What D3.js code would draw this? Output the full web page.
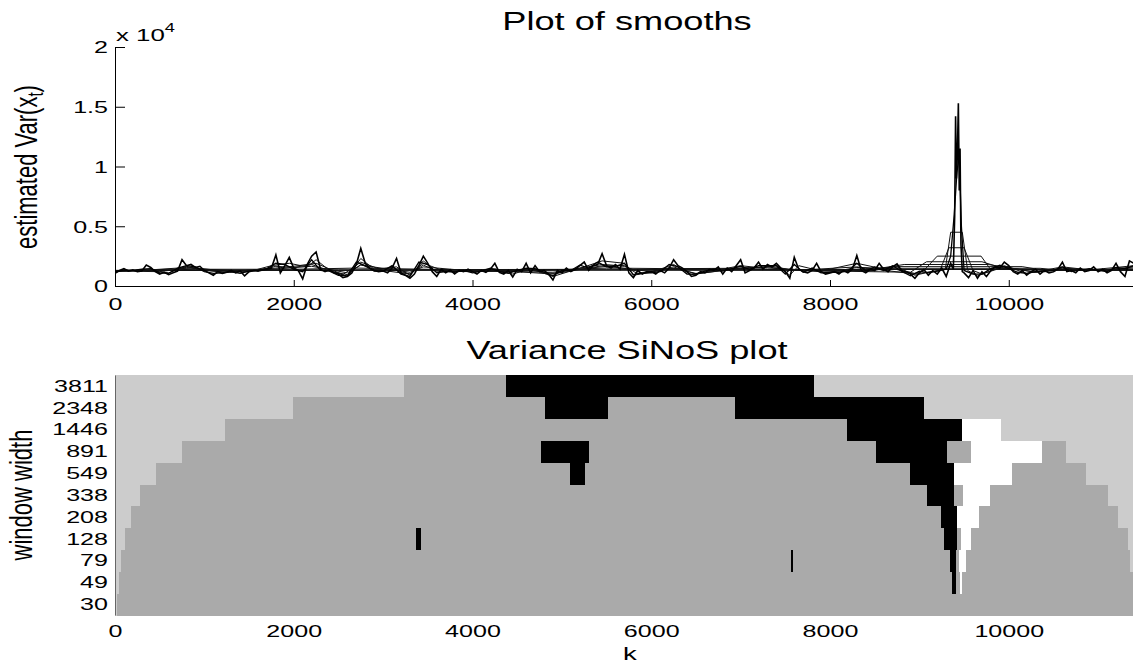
<!DOCTYPE html>
<html>
<head>
<meta charset="utf-8">
<script src="https://cdn.jsdelivr.net/npm/d3@7/dist/d3.min.js"></script>
<style>
  html, body { margin: 0; padding: 0; background: #fff; }
  svg { display: block; font-family: "Liberation Sans", Arial, Helvetica, sans-serif; }
</style>
</head>
<body>
<svg id="chart" width="1133" height="664"></svg>
<script>
// ---------------- DATA ----------------
const xTicks = [0, 2000, 4000, 6000, 8000, 10000];
const yTicks = [0, 5000, 10000, 15000, 20000];
const yTickLabels = ["0", "0.5", "1", "1.5", "2"];
const kMax = 11390;

// finest smooth (window 30): values every 50 k from 0 to 9350
const fineStep = 50;
const fineHeadV = [
  1050,1300,1450,1250,1350,1200,1250,1750,1550,1200,1000,1150,950,1100,1250,2200,1700,1800,1550,1650,
  1300,1100,900,1200,1050,1150,1300,1100,1250,850,1200,1300,1250,1350,1400,1500,2600,1100,1700,2400,
  1500,1300,600,1800,2500,2850,1400,1200,1350,1100,1000,700,800,1100,1800,3150,1900,1500,1300,1200,
  1250,1100,1500,2300,1100,900,650,1000,1700,2500,1900,1200,800,1400,1100,1350,1000,1300,1200,1400,
  1200,1000,1300,1150,1400,1900,1150,1000,1300,750,1400,1200,1900,1100,1700,1200,1300,1000,500,1300,
  1100,1500,1200,1400,1700,2000,1300,1700,1800,2700,1700,1500,1800,1400,2650,1100,700,1300,1000,1200,
  1200,1000,1300,1100,1500,2200,1700,1500,1200,800,900,1200,1100,1400,1300,1600,1000,1500,1200,1700,
  2200,1100,1300,1500,2000,1400,1800,1600,1900,1500,1200,650,2400,1400,1200,1100,1300,1900,1200,1000,
  1100,1200,1000,1300,1100,1400,2550,1300,1100,1400,1300,1900,1400,1200,1600,1850,1300,1200,1000,650,
  1100,1400,900,1300,1000,1500,800,1900
];
const fineSpikeK = [9380, 9395, 9405, 9415, 9425, 9436, 9446, 9455, 9465, 9480];
const fineSpikeV = [1400, 5900, 14200, 9000, 11000, 15300, 8000, 11500, 3500, 1200];
const fineTailStart = 9500;
const fineTailV = [
  1100,700,1300,650,1200,800,1300,1600,1500,2000,1700,1200,1000,1300,900,1200,1400,1000,1300,1100,
  1200,1400,2000,1200,1300,1100,1500,1200,1300,1600,1200,1400,1100,1300,1900,1200,800,2100,1900
];

// medium smooth (window 79): values every 100 k
const medStep = 100;
const medHeadV = [
  1150,1350,1300,1400,1450,1100,1050,1500,1700,1600,
  1200,1050,1100,1200,1050,1250,1300,1450,1900,1800,
  1400,1200,2200,1300,1250,900,850,2000,1700,1250,
  1250,1700,1000,800,2000,1800,1100,1250,1150,1300,
  1100,1250,1500,1200,1050,1300,1500,1450,1150,850,
  1300,1300,1750,1500,2000,1600,1650,1900,950,1100,
  1100,1200,1800,1600,1000,1000,1250,1400,1250,1450,
  1650,1400,1700,1700,1700,1000,1800,1150,1500,1100,
  1150,1150,1250,1900,1250,1600,1300,1700,1250,850,
  1250,1100,1250,1400
];
const medSpikeK = [9350, 9390, 9420, 9445, 9470];
const medSpikeV = [2500, 6000, 9500, 11000, 5000];
const medTailStart = 9500;
const medTailV = [1300,1000,1000,1450,1750,1450,1150,1050,1200,1200,1300,1600,1200,1350,1450,1300,1200,1550,1450,1700];

// coarser smooths
const w128K = [0,300,600,800,1000,1300,1500,1750,1950,2150,2250,2400,2600,2750,2900,3150,3300,3450,3600,3900,4250,4450,4650,4900,5250,5450,5700,5800,6000,6250,6450,6750,7000,7250,7400,7550,7650,7900,8300,8550,8750,8950,9100,9290,9350,9480,9540,9650,9950,10200,10600,10900,11200,11400];
const w128V = [1200,1350,1100,1650,1300,1150,1200,1700,1900,1600,2200,1300,800,2300,1400,1600,900,2100,1150,1250,1450,1000,1450,800,1600,2100,1900,900,1150,1800,950,1350,1700,1500,1750,900,1700,1250,1900,1500,1600,900,1150,1400,4500,4500,1300,850,1700,1050,1600,1350,1550,1700];
const w208K = [0,500,850,1300,1800,2000,2250,2550,2750,3000,3300,3450,3700,4300,4900,5250,5500,5700,5850,6250,6500,7000,7350,7600,8300,8950,9230,9330,9500,9600,9700,9950,10300,10600,11000,11400];
const w208V = [1250,1200,1550,1200,1500,1650,1900,950,2000,1300,1000,1900,1200,1300,1000,1450,1750,1700,1000,1600,1000,1500,1650,1300,1600,1000,1300,3200,3200,1300,1000,1600,1150,1500,1300,1600];
const w338K = [0,400,800,1200,1600,1800,2000,2200,2400,2600,2750,2900,3150,3300,3450,3600,4000,4300,4600,4900,5200,5450,5700,5900,6250,6500,7000,7300,7550,8000,8300,8700,8950,9050,9200,9690,9800,10000,10300,10600,11000,11400];
const w338V = [1250,1350,1550,1150,1300,1650,1550,1800,1250,950,1800,1350,1300,1000,1750,1250,1200,1250,1350,1050,1500,1800,1650,1050,1500,1050,1450,1600,1350,1150,1550,1450,1050,1300,2500,2500,1350,1500,1150,1450,1350,1500];
const w549K = [0,800,1500,2200,2600,2750,3300,3450,4000,4900,5500,6000,6250,7300,8000,8900,9080,9700,9950,10500,11400];
const w549V = [1250,1450,1250,1650,1100,1750,1150,1600,1250,1150,1650,1200,1450,1500,1250,1150,2030,2030,1450,1300,1400];
const w891K = [0,900,2000,2700,3500,4500,5500,7000,8400,8830,9770,10150,11400];
const w891V = [1250,1400,1400,1500,1400,1250,1500,1400,1300,1800,1800,1350,1350];
const w1446K = [0,2500,5500,8500,8700,10150,10400,11400];
const w1446V = [1300,1350,1400,1300,1620,1620,1300,1350];
const w2348K = [0,5000,8200,8400,10350,10600,11400];
const w2348V = [1300,1350,1330,1480,1480,1320,1300];
const w3811K = [0,7500,8000,10700,11400];
const w3811V = [1300,1330,1380,1380,1320];

// SiNoS map: window widths (bottom to top) and segments [kStart, kEnd, class]
// class: L = light grey, G = grey, B = black, W = white
const windowWidths = [30, 49, 79, 128, 208, 338, 549, 891, 1446, 2348, 3811];
const row30   = [[0,20,"L"],[20,11390,"G"]];
const row49   = [[0,45,"L"],[45,9370,"G"],[9370,9414,"B"],[9414,9459,"G"],[9459,9474,"W"],[9474,11390,"G"]];
const row79   = [[0,67,"L"],[67,7565,"G"],[7565,7587,"B"],[7587,9340,"G"],[9340,9407,"B"],[9407,9444,"G"],[9444,9526,"W"],[9526,11353,"G"],[11353,11390,"L"]];
const row128  = [[0,112,"L"],[112,3373,"G"],[3373,3421,"B"],[3421,9273,"G"],[9273,9421,"B"],[9421,9463,"G"],[9463,9582,"W"],[9582,11335,"G"],[11335,11390,"L"]];
const row208  = [[0,179,"L"],[179,9239,"G"],[9239,9421,"B"],[9421,9664,"W"],[9664,11223,"G"],[11223,11390,"L"]];
const row338  = [[0,280,"L"],[280,9086,"G"],[9086,9385,"B"],[9385,9489,"G"],[9489,9787,"W"],[9787,11111,"G"],[11111,11390,"L"]];
const row549  = [[0,459,"L"],[459,5089,"G"],[5089,5254,"B"],[5254,8893,"G"],[8893,9385,"B"],[9385,10041,"W"],[10041,10868,"G"],[10868,11390,"L"]];
const row891  = [[0,749,"L"],[749,4765,"G"],[4765,5302,"B"],[5302,8512,"G"],[8512,9310,"B"],[9310,9575,"G"],[9575,10376,"W"],[10376,10644,"G"],[10644,11390,"L"]];
const row1446 = [[0,1230,"L"],[1230,8188,"G"],[8188,9482,"B"],[9482,9918,"W"],[9918,11390,"L"]];
const row2348 = [[0,1986,"L"],[1986,4810,"G"],[4810,5511,"B"],[5511,6935,"G"],[6935,9049,"B"],[9049,11390,"L"]];
const row3811 = [[0,3233,"L"],[3233,4374,"G"],[4374,7819,"B"],[7819,11390,"L"]];
const sinosRows = [row30,row49,row79,row128,row208,row338,row549,row891,row1446,row2348,row3811];
const classColor = {L: "#cccccc", G: "#aaaaaa", B: "#000000", W: "#ffffff"};

// ---------------- BUILD SERIES ----------------
function pairs(ks, vs) { return ks.map((k, i) => [k, vs[i]]); }
const fineSeries = [
  ...fineHeadV.map((v, i) => [i * fineStep, v]),
  ...pairs(fineSpikeK, fineSpikeV),
  ...fineTailV.map((v, i) => [fineTailStart + i * fineStep, v])
];
const medSeries = [
  ...medHeadV.map((v, i) => [i * medStep, v]),
  ...pairs(medSpikeK, medSpikeV),
  ...medTailV.map((v, i) => [medTailStart + i * medStep, v])
];
const coarseSeries = [
  pairs(w3811K, w3811V), pairs(w2348K, w2348V), pairs(w1446K, w1446V),
  pairs(w891K, w891V), pairs(w549K, w549V), pairs(w338K, w338V),
  pairs(w208K, w208V), pairs(w128K, w128V)
];

// ---------------- DRAW ----------------
const svg = d3.select("#chart");
const SX = 1.52;      // horizontal stretch of text (figure aspect)
const left = 115, right = 1133;

const x = d3.scaleLinear().domain([0, kMax]).range([left, right]);

// ---- top panel ----
const topY0 = 286, topY1 = 47;
const y = d3.scaleLinear().domain([0, 20000]).range([topY0, topY1]);

svg.append("clipPath").attr("id", "clipTop")
  .append("rect").attr("x", left).attr("y", topY1 - 5).attr("width", right - left).attr("height", topY0 - topY1 + 5);

const line = d3.line().x(d => x(d[0])).y(d => y(d[1]));
const gLines = svg.append("g").attr("clip-path", "url(#clipTop)");
coarseSeries.forEach(s => {
  gLines.append("path").attr("d", line(s)).attr("fill", "none")
    .attr("stroke", "#111").attr("stroke-width", 1.0);
});
gLines.append("path").attr("d", line(medSeries)).attr("fill", "none")
  .attr("stroke", "#000").attr("stroke-width", 1.3);
gLines.append("path").attr("d", line(fineSeries)).attr("fill", "none")
  .attr("stroke", "#000").attr("stroke-width", 1.6);

function styleAxisText(g, fs) {
  g.selectAll("text").attr("font-size", fs).attr("fill", "#000")
    .attr("font-family", "Liberation Sans, Arial, sans-serif");
}

// x axis top
const xAxisTop = svg.append("g").attr("transform", `translate(0,${topY0})`)
  .call(d3.axisBottom(x).tickValues(xTicks).tickFormat(d3.format("d")).tickSizeInner(-6).tickSizeOuter(0).tickPadding(0));
xAxisTop.select(".domain").attr("stroke", "#000");
xAxisTop.selectAll(".tick line").attr("stroke", "#000");
styleAxisText(xAxisTop, 16.5);
xAxisTop.selectAll("text").attr("y", 0).attr("dy", null)
  .attr("transform", `translate(0,24) scale(${SX},1)`).attr("x", 0);

// y axis top
const yAxisTop = svg.append("g").attr("transform", `translate(${left},0)`)
  .call(d3.axisLeft(y).tickValues(yTicks).tickFormat((d, i) => yTickLabels[i]).tickSizeInner(-10).tickSizeOuter(0));
yAxisTop.select(".domain").attr("stroke", "#000");
yAxisTop.selectAll(".tick line").attr("stroke", "#000");
styleAxisText(yAxisTop, 16.5);
yAxisTop.selectAll("text").attr("x", 0).attr("dy", "0.36em")
  .attr("transform", `translate(-7,0) scale(${SX},1)`);

// exponent label
const expo = svg.append("text").attr("transform", `translate(116,41) scale(${SX},1)`)
  .attr("font-size", 17).attr("fill", "#000");
expo.append("tspan").text("x 10");
expo.append("tspan").attr("font-size", 12).attr("dy", -9).text("4");

// titles
svg.append("text").attr("transform", `translate(627,30) scale(1.42,1)`)
  .attr("text-anchor", "middle").attr("font-size", 25.5).attr("fill", "#000").text("Plot of smooths");
svg.append("text").attr("transform", `translate(627,359) scale(1.42,1)`)
  .attr("text-anchor", "middle").attr("font-size", 25.5).attr("fill", "#000").text("Variance SiNoS plot");

// y label top
const yl = svg.append("text").attr("transform", `translate(37,167) rotate(-90) scale(1,1.45)`)
  .attr("text-anchor", "middle").attr("font-size", 22).attr("fill", "#000");
yl.append("tspan").text("estimated Var(x");
yl.append("tspan").attr("font-size", 15).attr("dy", 4).text("t");
yl.append("tspan").attr("dy", -4).text(")");

// ---- bottom panel ----
const botTop = 375, botBottom = 615;
const band = d3.scaleBand().domain(windowWidths.slice().reverse()).range([botTop, botBottom]).padding(0);

const gMap = svg.append("g").attr("shape-rendering", "crispEdges");
sinosRows.forEach((row, ri) => {
  const w = windowWidths[ri];
  gMap.selectAll(null).data(row).enter().append("rect")
    .attr("x", d => x(d[0]))
    .attr("width", d => Math.max(0, x(d[1]) - x(d[0])))
    .attr("y", band(w))
    .attr("height", band.bandwidth() + 0.5)
    .attr("fill", d => classColor[d[2]]);
});

// y axis bottom (row labels)
const yAxisBot = svg.append("g").attr("transform", `translate(${left},0)`)
  .call(d3.axisLeft(band).tickSize(0).tickPadding(0));
yAxisBot.select(".domain").attr("stroke", "#666");
styleAxisText(yAxisBot, 16.5);
yAxisBot.selectAll("text").attr("x", 0).attr("dy", "0.36em")
  .attr("transform", `translate(-7,0) scale(${SX},1)`);

// x axis bottom
const xAxisBot = svg.append("g").attr("transform", `translate(0,${botBottom})`)
  .call(d3.axisBottom(x).tickValues(xTicks).tickFormat(d3.format("d")).tickSize(0).tickPadding(0));
xAxisBot.select(".domain").remove();
styleAxisText(xAxisBot, 16.5);
xAxisBot.selectAll("text").attr("y", 0).attr("dy", null)
  .attr("transform", `translate(0,22) scale(${SX},1)`).attr("x", 0);

svg.append("text").attr("transform", `translate(630,660) scale(1.45,1)`)
  .attr("text-anchor", "middle").attr("font-size", 19).attr("fill", "#000").text("k");

svg.append("text").attr("transform", `translate(32,495) rotate(-90) scale(1,1.45)`)
  .attr("text-anchor", "middle").attr("font-size", 22).attr("fill", "#000").text("window width");
</script>
</body>
</html>
